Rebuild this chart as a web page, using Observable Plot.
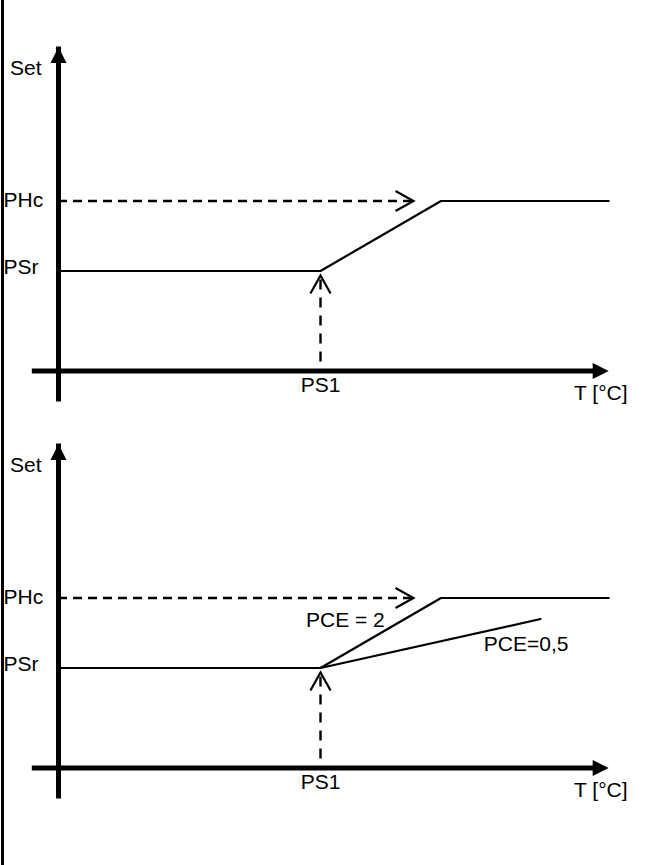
<!DOCTYPE html>
<html>
<head>
<meta charset="utf-8">
<script src="https://cdn.jsdelivr.net/npm/d3@7"></script>
<script src="https://cdn.jsdelivr.net/npm/@observablehq/plot@0.6"></script>
<style>
  html, body { margin: 0; padding: 0; background: #fff; }
  #wrap { position: relative; width: 653px; height: 865px; overflow: hidden; }
  #border { position: absolute; left: 1px; top: 0; width: 2.5px; height: 865px; background: #000; }
  #wrap svg { display: block; }
</style>
</head>
<body>
<div id="wrap"><div id="border"></div></div>
<script>
// ---- schematic values (abstract units) ----
const xAxisStart = -1.0;   // left end of T axis
const xAxisEnd = 21.0;     // arrow tip of T axis
const yAxisBottom = -2.1;  // lower end of Set axis
const yAxisTop = 32.4;     // arrow tip of Set axis
const PS1 = 10;            // T value of PS1
const PSr = 10;            // Set value PSr
const PHc = 17;            // Set value PHc
const rampEnd = 14.6;      // T where set reaches PHc
const lineEnd = 21.0;      // right end of set curve
const phcArrowTip = 13.55; // tip of dashed PHc arrow
const ps1ArrowTip = 9.55;  // tip of dashed PS1 arrow
const ps1DashStart = 0.9;  // bottom of dashed PS1 arrow

const setCurve = [
  {t: 0, s: PSr}, {t: PS1, s: PSr}, {t: rampEnd, s: PHc}, {t: lineEnd, s: PHc}
];
const pce05Curve = [{t: PS1, s: PSr}, {t: 18.4, s: 14.9}];

const yLabels = [{label: "PHc", s: 17.1}, {label: "PSr", s: 10.4}];
const setLabel = {label: "Set", s: 30.3};
const ps1Label = {label: "PS1", t: PS1, s: -1.4};
const tLabel = {label: "T [°C]", t: 20.7, s: -2.25};
const pceLabels = [
  {label: "PCE = 2", t: 10.95, s: 14.75},
  {label: "PCE=0,5", t: 17.85, s: 12.35}
];

// ---- custom symbols ----
const triangleUp = {draw(ctx, size) {
  const r = Math.sqrt(size / Math.PI);
  ctx.moveTo(0, 0); ctx.lineTo(-r, 2 * r); ctx.lineTo(r, 2 * r); ctx.closePath();
}};
const chevronUp = {draw(ctx, size) {
  const r = Math.sqrt(size / Math.PI);
  ctx.moveTo(-0.56 * r, r); ctx.lineTo(0, 0); ctx.lineTo(0.56 * r, r);
}};

const FONT = "Liberation Sans, Arial, sans-serif";
const FS = 21;

function panel(withPCE) {
  const marks = [
    // Set axis
    Plot.ruleX([0], {y1: yAxisBottom, y2: yAxisTop, strokeWidth: 5, insetTop: 10, stroke: "#000"}),
    Plot.dot([{t: 0, s: yAxisTop}], {x: "t", y: "s", symbol: triangleUp, r: 8, fill: "#000", stroke: "none"}),
    // T axis
    Plot.ruleY([0], {x1: xAxisStart, x2: xAxisEnd, strokeWidth: 5, insetRight: 10, stroke: "#000"}),
    Plot.dot([{t: xAxisEnd, s: 0}], {x: "t", y: "s", symbol: triangleUp, r: 8, rotate: 90, fill: "#000", stroke: "none"}),
    // dashed PHc arrow
    Plot.ruleY([PHc], {x1: 0, x2: phcArrowTip, stroke: "#000", strokeWidth: 2.4, strokeDasharray: "9,6"}),
    Plot.dot([{t: phcArrowTip, s: PHc}], {x: "t", y: "s", symbol: chevronUp, r: 18, rotate: 90, fill: "none", stroke: "#000", strokeWidth: 2.2}),
    // dashed PS1 arrow
    Plot.ruleX([PS1], {y1: ps1DashStart, y2: ps1ArrowTip, stroke: "#000", strokeWidth: 2.4, strokeDasharray: "10,8"}),
    Plot.dot([{t: PS1, s: ps1ArrowTip}], {x: "t", y: "s", symbol: chevronUp, r: 18, fill: "none", stroke: "#000", strokeWidth: 2.2}),
    // set curve
    Plot.line(setCurve, {x: "t", y: "s", stroke: "#000", strokeWidth: 2.2}),
    // labels
    Plot.text(yLabels, {y: "s", text: "label", frameAnchor: "left", textAnchor: "start", dx: 3, fontSize: FS}),
    Plot.text([setLabel], {y: "s", text: "label", frameAnchor: "left", textAnchor: "start", dx: 9.5, fontSize: FS}),
    Plot.text([ps1Label], {x: "t", y: "s", text: "label", fontSize: FS}),
    Plot.text([tLabel], {x: "t", y: "s", text: "label", fontSize: FS})
  ];
  if (withPCE) {
    marks.push(
      Plot.line(pce05Curve, {x: "t", y: "s", stroke: "#000", strokeWidth: 2.2}),
      Plot.text(pceLabels, {x: "t", y: "s", text: "label", fontSize: FS})
    );
  }
  return Plot.plot({
    width: 653,
    height: withPCE ? 468 : 397,
    margin: 0,
    style: {fontFamily: FONT, color: "#000", background: "transparent", overflow: "visible"},
    x: {axis: null, domain: [0, 10], range: [58, 320]},
    y: {axis: null, domain: [0, 10], range: [370.5, 270.5]},
    marks
  });
}

const wrap = document.getElementById("wrap");
wrap.appendChild(panel(false));
wrap.appendChild(panel(true));
</script>
</body>
</html>
